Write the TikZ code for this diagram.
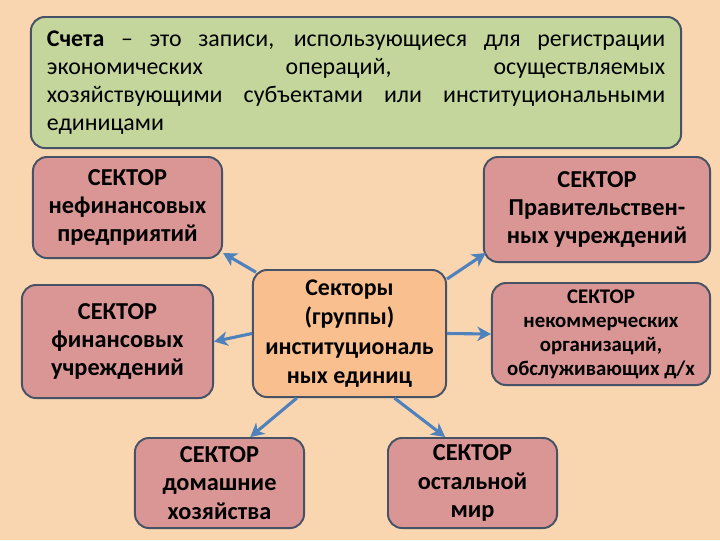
\documentclass[tikz,border=0pt]{standalone}
\usepackage{fontspec}
\setmainfont{Carlito}
\usepackage{tikz}
\usetikzlibrary{arrows.meta,positioning,calc}
\definecolor{pagebg}{RGB}{250,214,176}
\definecolor{defgreen}{RGB}{196,214,156}
\definecolor{sectorrose}{RGB}{217,150,148}
\definecolor{hubpeach}{RGB}{250,191,143}
\definecolor{rimslate}{RGB}{70,82,102}
\definecolor{linkblue}{RGB}{79,129,189}

\begin{document}
\begin{tikzpicture}[
    x=0.025cm, y=-0.025cm,
    box/.style={rectangle, rounded corners=0.35cm, draw=rimslate, line width=1.4pt,
                align=center, font=\bfseries\fontsize{17.3}{20}\selectfont, inner sep=2pt},
    sector/.style={box, fill=sectorrose},
    hub/.style={box, fill=hubpeach, font=\bfseries\fontsize{17}{20.8}\selectfont},
    defn/.style={box, fill=defgreen, align=justify, font=\fontsize{17}{19.9}\selectfont,
                 text width=15.45cm},
    link/.style={-{Stealth[length=3.4mm, width=3.6mm, inset=1mm]}, line width=2.2pt,
                 draw=linkblue}
]
\fill[pagebg] (0,0) rectangle (720,540);

\node[defn, minimum width=16.25cm, minimum height=3.275cm] (def) at (356,82.5)
    {\textbf{Счета} -- это записи, использующиеся для регистрации\linebreak
     экономических операций, осуществляемых\linebreak
     хозяйствующими субъектами или институциональными\linebreak
     единицами};

\node[sector, minimum width=4.725cm, minimum height=2.525cm] (nonfin) at (127.5,207.5)
    {СЕКТОР\\нефинансовых\\предприятий};
\node[sector, minimum width=5.65cm, minimum height=2.625cm] (gov) at (597,209.5)
    {СЕКТОР\\Правительствен-\\ных учреждений};
\node[sector, minimum width=4.775cm, minimum height=2.825cm] (fin) at (117.5,341.5)
    {СЕКТОР\\финансовых\\учреждений};
\node[hub, minimum width=4.825cm, minimum height=3.175cm] (ctr) at (349.5,333.5)
    {Секторы\\(группы)\\институциональ\\ных единиц};
\node[sector, minimum width=5.45cm, minimum height=2.55cm,
      font=\bfseries\fontsize{14.8}{17}\selectfont] (npo) at (601,334)
    {СЕКТОР\\некоммерческих\\организаций,\\обслуживающих д/х};
\node[sector, minimum width=4.225cm, minimum height=2.25cm] (home) at (219.5,483)
    {СЕКТОР\\домашние\\хозяйства};
\node[sector, minimum width=4.225cm, minimum height=2.25cm] (rest) at (472.5,483)
    {СЕКТОР\\остальной\\мир};

\draw[link] ([xshift=0.1cm, yshift=-0.08cm]ctr.north west) -- ([yshift=0.15cm]nonfin.south east);
\draw[link] (ctr.west) -- (fin.east);
\draw[link] ([yshift=-0.25cm]ctr.north east) -- ([xshift=0.07cm, yshift=0.25cm]gov.south west);
\draw[link] (ctr.east) -- (npo.west);
\draw[link] ($(ctr.south west)!0.23!(ctr.south east)$) -- ($(home.north west)!0.68!(home.north east)$);
\draw[link] ($(ctr.south west)!0.73!(ctr.south east)$) -- ($(rest.north west)!0.34!(rest.north east)$);
\end{tikzpicture}
\end{document}
